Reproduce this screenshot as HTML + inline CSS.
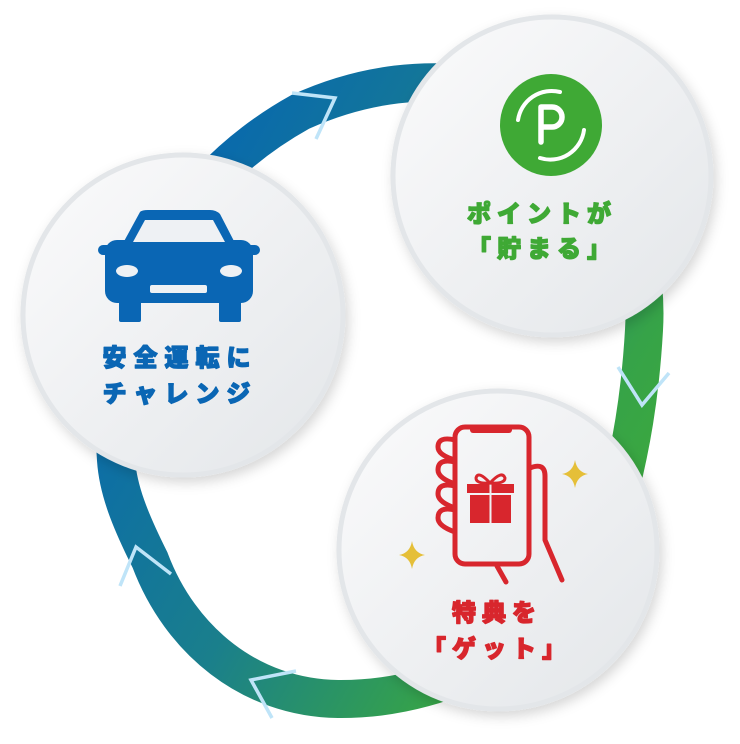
<!DOCTYPE html>
<html><head><meta charset="utf-8"><style>
html,body{margin:0;padding:0;background:#fff;}
svg{display:block;}
text{font-family:"Liberation Sans","Noto Sans CJK JP",sans-serif;font-weight:900;stroke-width:1.3;stroke-linejoin:round;}
</style></head><body>
<svg width="740" height="744" viewBox="0 0 740 744" xmlns="http://www.w3.org/2000/svg">
<defs>
<linearGradient id="ring" gradientUnits="userSpaceOnUse" x1="120" y1="250" x2="660" y2="560">
<stop offset="0" stop-color="#0767b0"/>
<stop offset="0.45" stop-color="#1a7f8c"/>
<stop offset="0.8" stop-color="#36a348"/>
<stop offset="1" stop-color="#3eab3a"/>
</linearGradient>
<linearGradient id="cf" x1="0" y1="0" x2="1" y2="1">
<stop offset="0" stop-color="#fbfbfc"/>
<stop offset="1" stop-color="#e3e6e9"/>
</linearGradient>
<filter id="sh" x="-20%" y="-20%" width="140%" height="140%">
<feDropShadow dx="3" dy="5" stdDeviation="6" flood-color="#000" flood-opacity="0.16"/>
</filter>
</defs>
<path d="M116 460 C105 330 160 190 300 112 C370 80 430 80 470 84 C600 100 650 230 644 330 C640 400 630 450 620 490 C580 640 450 700 338 699 C250 698 180 640 150 560 C130 520 118 490 116 460 Z" fill="none" stroke="url(#ring)" stroke-width="38"/>
<g fill="none" stroke="#bfe4f8" stroke-width="3.5">
<polyline points="292,93 335,98 316,139"/>
<polyline points="618,367 642,405 669,373"/>
<polyline points="120,586 136,547 171,574"/>
<polyline points="296,671 251,680 272,718"/>
</g>
<g filter="url(#sh)">
<circle cx="552" cy="176" r="159" fill="url(#cf)" stroke="#e3e6e9" stroke-width="5"/>
<circle cx="183" cy="315" r="160" fill="url(#cf)" stroke="#e3e6e9" stroke-width="5"/>
<circle cx="498" cy="550" r="159" fill="url(#cf)" stroke="#e3e6e9" stroke-width="5"/>
</g>
<!-- P icon -->
<circle cx="551" cy="125" r="51" fill="#3fa935"/>
<path d="M518 120 A34 34 0 0 1 560 92" fill="none" stroke="#fff" stroke-width="4" stroke-linecap="round"/>
<path d="M584 130 A34 34 0 0 1 540 158" fill="none" stroke="#fff" stroke-width="4" stroke-linecap="round"/>
<path d="M541 142 V107 H552 A10 10 0 0 1 552 127 H541" fill="none" stroke="#fff" stroke-width="5.5" stroke-linejoin="round" stroke-linecap="round"/>
<text x="542" y="222" font-size="24" fill="#3fa935" stroke="#3fa935" text-anchor="middle" letter-spacing="6">ポイントが</text>
<text x="542" y="257" font-size="24" fill="#3fa935" stroke="#3fa935" text-anchor="middle" letter-spacing="6">「貯まる」</text>
<!-- car -->
<g fill="#0a66b4">
<path d="M140 212 Q142 210 148 210 H210 Q216 210 220 214 L236 245 H122 Z"/>
<rect x="105" y="240" width="148" height="63" rx="12"/>
<rect x="98" y="245" width="22" height="10" rx="5"/>
<rect x="238" y="245" width="22" height="10" rx="5"/>
<rect x="119" y="300" width="22" height="22" rx="2"/>
<rect x="219" y="300" width="22" height="22" rx="2"/>
</g>
<path d="M145 220 H213 L225 242 H133 Z" fill="#eef1f4"/>
<ellipse cx="127" cy="271" rx="11" ry="6" fill="#eef1f4"/>
<ellipse cx="231" cy="271" rx="11" ry="6" fill="#eef1f4"/>
<rect x="150" y="285" width="57" height="8" rx="2" fill="#eef1f4"/>
<text x="180" y="366" font-size="24" fill="#0a66b4" stroke="#0a66b4" text-anchor="middle" letter-spacing="7">安全運転に</text>
<text x="180" y="402" font-size="24" fill="#0a66b4" stroke="#0a66b4" text-anchor="middle" letter-spacing="7">チャレンジ</text>
<!-- phone -->
<g fill="none" stroke="#d8262d" stroke-width="5" stroke-linecap="round" stroke-linejoin="round">
<path d="M455 440 Q438 436 438 447 Q438 455 455 460 M455 462 Q438 458 438 470 Q438 478 455 484 M455 486 Q438 482 438 494 Q438 502 455 508 M455 510 Q438 506 438 518 Q438 526 455 532"/>
<rect x="455" y="427" width="74" height="137" rx="10"/>
<path d="M530 468 Q545 462 545 476 V540 L562 580"/>
<path d="M497 566 L506 582"/>
</g>
<rect x="470" y="425" width="42" height="8" rx="3" fill="#d8262d"/>
<g fill="#d8262d">
<rect x="467" y="484" width="47" height="9"/>
<rect x="470" y="495" width="41" height="28"/>
</g>
<line x1="490.5" y1="484" x2="490.5" y2="523" stroke="#eef0f2" stroke-width="2"/>
<g fill="none" stroke="#d8262d" stroke-width="3">
<path d="M490 483 Q478 470 476 478 Q476 484 490 483 Q502 470 505 478 Q505 484 490 483"/>
</g>
<g fill="#e5bf38">
<path d="M575 460 Q577 472 588 474 Q577 476 575 488 Q573 476 562 474 Q573 472 575 460 Z"/>
<path d="M412 541 Q414 553 425 555 Q414 557 412 569 Q410 557 399 555 Q410 553 412 541 Z"/>
</g>
<text x="497" y="621" font-size="24" fill="#d8262d" stroke="#d8262d" text-anchor="middle" letter-spacing="6">特典を</text>
<text x="497" y="657" font-size="24" fill="#d8262d" stroke="#d8262d" text-anchor="middle" letter-spacing="6">「ゲット」</text>
</svg>
</body></html>
